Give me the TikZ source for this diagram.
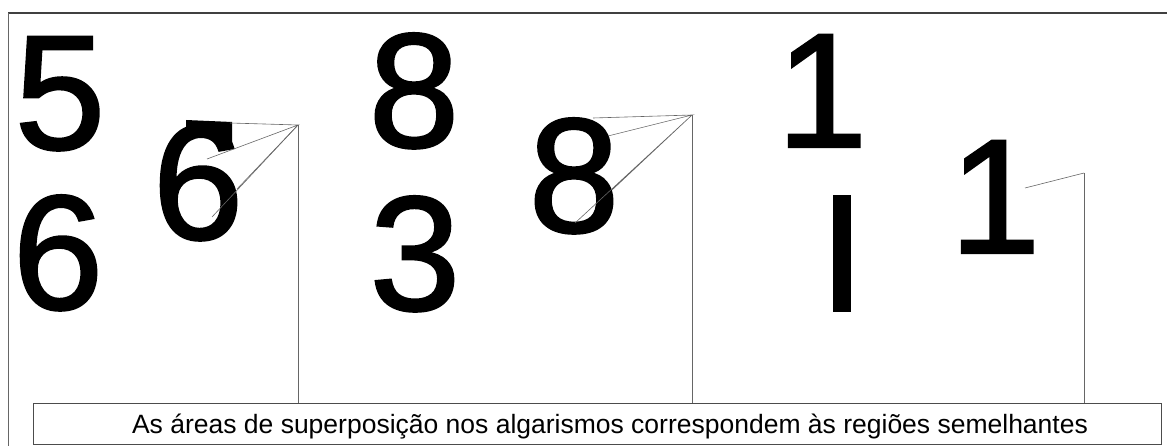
\documentclass[tikz,border=0pt]{standalone}
\usepackage{fontspec}
\setmainfont{Liberation Sans}
\newfontfamily\digitfont{Liberation Sans}[FakeBold=1.5]
\begin{document}
\begin{tikzpicture}[x=1pt,y=-1pt,
  digit/.style={inner sep=0pt,outer sep=0pt,anchor=base,font=\digitfont\fontsize{163}{163}\selectfont},
  thin/.style={draw=black!60,line width=0.6pt},
  frame/.style={draw=black!75,line width=0.8pt}]
\useasboundingbox (0,0) rectangle (1167,446);
% outer frame
\draw[frame,line width=1.4pt] (8,13) -- (1167,13);
\draw[thin] (8,13) -- (8,446);
% caption
\node[draw=black!70,line width=0.8pt,minimum width=1128pt,minimum height=41pt,inner sep=0pt,anchor=north west] (cap) at (33,403) {};
\node[inner sep=0pt,anchor=base,font=\fontsize{26.5}{26.5}\selectfont] (captext) at (610,433) {As áreas de superposição nos algarismos correspondem às regiões semelhantes};
% group 1
\node[digit] (d5) at (60,149) {5};
\node[digit] (d6) at (58,309) {6};
\node[digit] (m6) at (198,239) {6};
\fill (186,120) -- (232,122) -- (232,147) -- (217,147) -- (217,135) -- (186,135) -- cycle;
\coordinate (a1) at (298,125);
\coordinate (p11) at (230,123);
\coordinate (p12) at (207,159);
\coordinate (p13) at (237,189);
\coordinate (p14) at (212,217);
\draw[thin] (p11) -- (a1) -- (p12) (a1) -- (p13);
\draw[thin] (a1) -- (p14);
\draw[thin] (a1) -- (a1 |- cap.north);
% group 2
\node[digit] (d8) at (414,147) {8};
\node[digit] (d3) at (415,310) {3};
\node[digit] (m8) at (574,232) {8};
\coordinate (a2) at (692,115);
\coordinate (p21) at (593,118);
\coordinate (p22) at (608,136);
\coordinate (p23) at (612,190);
\coordinate (p24) at (575,223);
\draw[thin] (p21) -- (a2) -- (p22) (a2) -- (p23) (a2) -- (p24);
\draw[thin] (a2) -- (a2 |- cap.north);
% group 3
\node[digit] (d1) at (822,147) {1};
\fill (833,195) rectangle (851,312);
\node[digit] (m1) at (995,253) {1};
\coordinate (a3) at (1084,173);
\coordinate (p31) at (1025,188);
\draw[thin] (p31) -- (a3);
\draw[thin] (a3) -- (a3 |- cap.north);
\end{tikzpicture}
\end{document}
